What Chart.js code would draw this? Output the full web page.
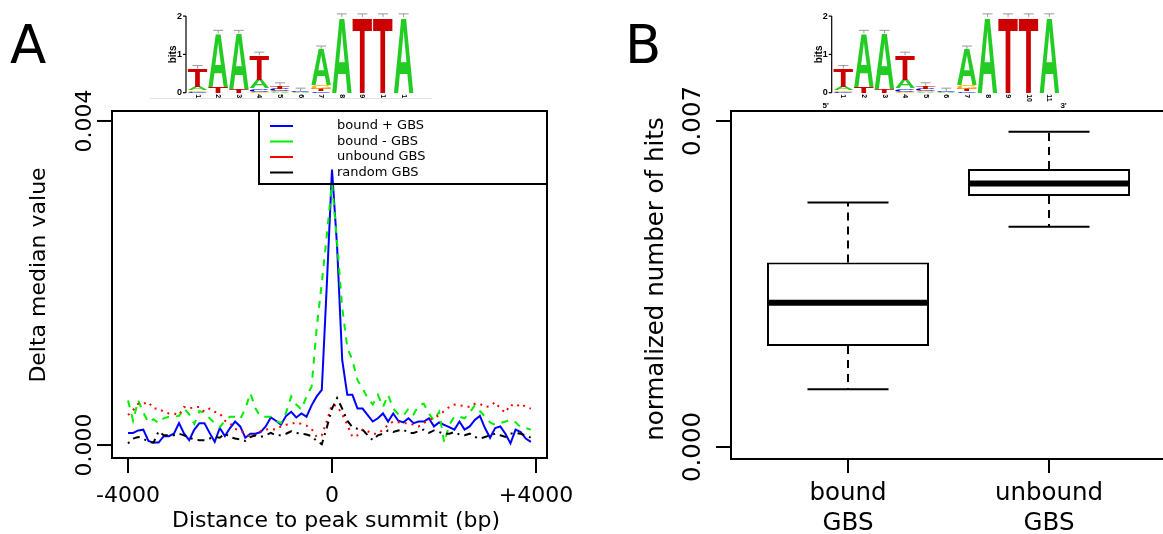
<!DOCTYPE html>
<html>
<head>
<meta charset="utf-8">
<script src="https://cdn.jsdelivr.net/npm/chart.js@4.4.1/dist/chart.umd.min.js"></script>
<style>
  html, body { margin: 0; padding: 0; background: #fff; }
  #wrap { position: relative; width: 1163px; height: 534px; overflow: hidden; }
  canvas { position: absolute; top: 0; }
  #left { left: 0; }
  #right { left: 600px; }
</style>
</head>
<body>
<div id="wrap">
  <canvas id="left" width="600" height="534"></canvas>
  <canvas id="right" width="563" height="534"></canvas>
</div>
<script>
// ---- panel A data (values read in units of 0.001) ----
const distances = [
  -4000,-3900,-3800,-3700,-3600,-3500,-3400,-3300,-3200,-3100,
  -3000,-2900,-2800,-2700,-2600,-2500,-2400,-2300,-2200,-2100,
  -2000,-1900,-1800,-1700,-1600,-1500,-1400,-1300,-1200,-1100,
  -1000,-900,-800,-700,-600,-500,-400,-300,-200,-100,
  0,100,200,300,400,500,600,700,800,900,
  1000,1100,1200,1300,1400,1500,1600,1700,1800,1900,
  2000,2100,2200,2300,2400,2500,2600,2700,2800,2900,
  3000,3100,3200,3300,3400,3500,3600,3700,3800,3900
];
const boundPlus = [
  0.15,0.15,0.18,0.19,0.05,0.03,0.03,0.11,0.11,0.14,
  0.27,0.14,0.06,0.19,0.27,0.27,0.15,0.04,0.21,0.11,
  0.21,0.29,0.23,0.09,0.14,0.14,0.16,0.23,0.34,0.30,
  0.25,0.36,0.41,0.34,0.39,0.35,0.49,0.60,0.68,2.00,
  3.40,2.45,1.05,0.62,0.62,0.45,0.45,0.37,0.29,0.33,
  0.39,0.29,0.39,0.30,0.28,0.33,0.27,0.29,0.29,0.33,
  0.23,0.28,0.25,0.22,0.19,0.29,0.19,0.23,0.31,0.36,
  0.21,0.09,0.21,0.23,0.14,0.02,0.19,0.16,0.08,0.04
];
const boundMinus = [
  0.55,0.30,0.55,0.40,0.28,0.32,0.27,0.33,0.35,0.35,
  0.36,0.45,0.38,0.26,0.42,0.40,0.33,0.27,0.22,0.30,
  0.35,0.35,0.32,0.45,0.64,0.45,0.35,0.35,0.35,0.30,
  0.27,0.40,0.60,0.50,0.44,0.60,0.72,1.45,2.00,2.60,
  3.23,2.50,1.70,1.20,1.05,0.80,0.70,0.58,0.50,0.62,
  0.47,0.62,0.45,0.38,0.36,0.45,0.38,0.49,0.51,0.39,
  0.30,0.41,0.03,0.25,0.35,0.35,0.33,0.40,0.49,0.42,
  0.35,0.28,0.25,0.27,0.29,0.31,0.28,0.22,0.21,0.19
];
const unbound = [
  0.37,0.43,0.51,0.51,0.53,0.45,0.45,0.41,0.39,0.39,
  0.37,0.47,0.45,0.47,0.47,0.41,0.45,0.41,0.39,0.30,
  0.27,0.20,0.18,0.14,0.10,0.12,0.17,0.19,0.20,0.19,
  0.23,0.25,0.26,0.28,0.26,0.24,0.20,0.10,0.12,0.30,
  0.50,0.48,0.38,0.25,0.10,0.12,0.19,0.17,0.14,0.14,
  0.19,0.25,0.29,0.28,0.27,0.27,0.25,0.23,0.27,0.31,
  0.33,0.37,0.42,0.47,0.50,0.49,0.48,0.47,0.51,0.51,
  0.47,0.48,0.53,0.45,0.40,0.50,0.47,0.51,0.47,0.45
];
const randomGBS = [
  0.02,0.08,0.10,0.08,0.04,0.03,0.17,0.12,0.12,0.12,
  0.14,0.12,0.09,0.07,0.06,0.06,0.08,0.10,0.09,0.14,
  0.10,0.08,0.07,0.05,0.10,0.12,0.10,0.12,0.15,0.12,
  0.12,0.14,0.17,0.15,0.14,0.13,0.11,0.05,0.01,0.22,
  0.45,0.58,0.45,0.30,0.22,0.20,0.19,0.12,0.06,0.12,
  0.14,0.18,0.16,0.18,0.19,0.15,0.15,0.17,0.19,0.15,
  0.18,0.16,0.14,0.14,0.16,0.13,0.12,0.14,0.10,0.08,
  0.10,0.12,0.14,0.12,0.10,0.14,0.15,0.14,0.12,0.09
];
const seriesNames = ['bound + GBS', 'bound - GBS', 'unbound GBS', 'random GBS'];
const xTicksA = [-4000, 0, 4000];
const xTickLabelsA = ['-4000', '0', '+4000'];
const yTicksA = [0, 0.004];
const yTickLabelsA = ['0.000', '0.004'];

// ---- panel B data (units of 0.001) ----
const boxGroups = [['bound', 'GBS'], ['unbound', 'GBS']];
const whiskerLow = [1.24, 4.73];
const quart1 = [2.17, 5.39];
const medians = [3.10, 5.66];
const quart3 = [3.96, 5.97];
const whiskerHigh = [5.25, 6.77];
const yTicksB = [0, 0.007];
const yTickLabelsB = ['0.000', '0.007'];

// ---- sequence logo (bits per letter, positions 1..11) ----
const logoPositions = ['1','2','3','4','5','6','7','8','9','10','11'];
const bitsA = [0.10, 1.40, 1.45, 0.22, 0.02, 0.02, 0.95, 1.98, 0.00, 0.00, 1.98];
const bitsC = [0.03, 0.01, 0.01, 0.08, 0.06, 0.02, 0.04, 0.00, 0.00, 0.00, 0.00];
const bitsG = [0.03, 0.01, 0.01, 0.03, 0.02, 0.01, 0.09, 0.00, 0.00, 0.00, 0.00];
const bitsT = [0.47, 0.15, 0.10, 0.65, 0.08, 0.01, 0.06, 0.00, 1.98, 1.98, 0.00];

const FONT = '"DejaVu Sans", Verdana, sans-serif';
const LOGO_FONT = '"Liberation Sans", Arial, sans-serif';
const letterColors = { A: '#22cc22', C: '#0000cc', G: '#ffb300', T: '#cc0000' };

function line(ctx, x1, y1, x2, y2) {
  ctx.beginPath(); ctx.moveTo(x1, y1); ctx.lineTo(x2, y2); ctx.stroke();
}

function rotText(ctx, text, x, y, font) {
  ctx.save();
  ctx.translate(x, y);
  ctx.rotate(-Math.PI / 2);
  ctx.font = font;
  ctx.textAlign = 'center';
  ctx.textBaseline = 'alphabetic';
  ctx.fillText(text, 0, 0);
  ctx.restore();
}

function drawLetter(ctx, ch, x, y, w, h, color) {
  ctx.save();
  ctx.font = 'bold 100px ' + LOGO_FONT;
  ctx.textBaseline = 'alphabetic';
  ctx.textAlign = 'left';
  const m = ctx.measureText(ch);
  const gl = -m.actualBoundingBoxLeft, gr = m.actualBoundingBoxRight;
  const gt = -m.actualBoundingBoxAscent, gb = m.actualBoundingBoxDescent;
  ctx.translate(x, y);
  ctx.scale(w / (gr - gl), h / (gb - gt));
  ctx.fillStyle = color;
  ctx.fillText(ch, -gl, -gt);
  ctx.restore();
}

function drawLogo(ctx, axisX, clipY, primes) {
  const base = 92.7, bit = 38.3, colW = 20.6, first = axisX + 1.3;
  ctx.save();
  if (clipY) { ctx.beginPath(); ctx.rect(axisX - 40, 0, 320, clipY); ctx.clip(); }
  ctx.strokeStyle = '#000'; ctx.fillStyle = '#000'; ctx.lineWidth = 1.2;
  line(ctx, axisX, base - 2 * bit, axisX, base);
  ctx.font = 'bold 9px ' + LOGO_FONT;
  ctx.textAlign = 'right'; ctx.textBaseline = 'middle';
  [0, 1, 2].forEach(b => {
    const yy = base - b * bit;
    line(ctx, axisX - 3, yy, axisX, yy);
    ctx.fillText(String(b), axisX - 4, yy);
  });
  rotText(ctx, 'bits', axisX - 10, base - bit, 'bold 10px ' + LOGO_FONT);

  logoPositions.forEach((lab, i) => {
    const x0 = first + i * colW;
    const stack = [
      { l: 'A', h: bitsA[i] }, { l: 'C', h: bitsC[i] },
      { l: 'G', h: bitsG[i] }, { l: 'T', h: bitsT[i] }
    ].sort((p, q) => p.h - q.h);
    let yy = base;
    stack.forEach(s => {
      const hp = s.h * bit;
      if (hp < 0.4) return;
      drawLetter(ctx, s.l, x0 + 0.5, yy - hp, colW - 1, hp, letterColors[s.l]);
      yy -= hp;
    });
    // small error bar on top of the stack
    ctx.strokeStyle = '#999'; ctx.lineWidth = 1;
    const cx = x0 + colW / 2;
    line(ctx, cx - 5, yy - 3, cx + 5, yy - 3);
    line(ctx, cx, yy - 3, cx, yy);
    // position number, rotated
    ctx.save();
    ctx.fillStyle = '#000';
    ctx.translate(cx, base + 1.5);
    ctx.rotate(Math.PI / 2);
    ctx.font = 'bold 7px ' + LOGO_FONT;
    ctx.textAlign = 'left'; ctx.textBaseline = 'middle';
    ctx.fillText(lab, 0, 0);
    ctx.restore();
  });
  if (primes) {
    ctx.fillStyle = '#000';
    ctx.font = 'bold 8px ' + LOGO_FONT;
    ctx.textAlign = 'center'; ctx.textBaseline = 'alphabetic';
    ctx.fillText("5'", axisX - 6, 108);
    ctx.fillText("3'", first + 11 * colW + 4, 108);
  }
  ctx.restore();
}

const lineStyles = [
  { color: '#0000ff', dash: [] },
  { color: '#00ee00', dash: [7, 7] },
  { color: '#ff0000', dash: [2, 5] },
  { color: '#000000', dash: [2, 5, 7, 5] }
];

const panelA = {
  id: 'panelA',
  afterDraw(chart) {
    const { ctx, chartArea: a, scales: { x, y } } = chart;
    ctx.save();
    ctx.strokeStyle = '#000'; ctx.fillStyle = '#000'; ctx.lineWidth = 2;
    ctx.strokeRect(a.left, a.top, a.right - a.left, a.bottom - a.top);

    yTicksA.forEach((v, i) => {
      const py = y.getPixelForValue(v);
      line(ctx, a.left - 15, py, a.left, py);
      rotText(ctx, yTickLabelsA[i], a.left - 21, py, '22px ' + FONT);
    });
    ctx.font = '22px ' + FONT;
    ctx.textAlign = 'center'; ctx.textBaseline = 'alphabetic';
    xTicksA.forEach((v, i) => {
      const px = x.getPixelForValue(v);
      line(ctx, px, a.bottom, px, a.bottom + 15);
      ctx.fillText(xTickLabelsA[i], px, a.bottom + 44);
    });
    ctx.fillText('Distance to peak summit (bp)', 336, 527);
    rotText(ctx, 'Delta median value', 45, 275, '22px ' + FONT);

    // legend
    ctx.lineWidth = 2; ctx.setLineDash([]);
    ctx.strokeRect(259, 111, 288, 73);
    ctx.font = '13px ' + FONT;
    ctx.textAlign = 'left'; ctx.textBaseline = 'middle';
    seriesNames.forEach((name, i) => {
      const ly = 126 + i * 15.5;
      ctx.strokeStyle = lineStyles[i].color;
      line(ctx, 270, ly, 293, ly);
      ctx.fillStyle = '#000';
      ctx.fillText(name, 337, ly);
    });

    ctx.font = '53px ' + FONT;
    ctx.textBaseline = 'alphabetic';
    ctx.fillText('A', 10, 63);

    ctx.strokeStyle = '#e2e2e2'; ctx.lineWidth = 1;
    line(ctx, 150, 98.5, 432, 98.5);
    drawLogo(ctx, 186, 98, false);
    ctx.restore();
  }
};

new Chart(document.getElementById('left'), {
  type: 'line',
  data: {
    datasets: [boundPlus, boundMinus, unbound, randomGBS].map((vals, k) => ({
      label: seriesNames[k],
      data: distances.map((d, i) => ({ x: d, y: vals[i] / 1000 })),
      borderColor: lineStyles[k].color,
      borderDash: lineStyles[k].dash,
      borderWidth: 2,
      pointRadius: 0,
      tension: 0,
      fill: false,
      order: 4 - k
    }))
  },
  options: {
    responsive: false,
    animation: false,
    devicePixelRatio: 1,
    layout: { padding: { left: 112, top: 111, right: 53, bottom: 76 } },
    plugins: { legend: { display: false }, tooltip: { enabled: false } },
    scales: {
      x: { type: 'linear', display: false, min: -4314, max: 4216 },
      y: { type: 'linear', display: false, min: -0.00016, max: 0.004123 }
    }
  },
  plugins: [panelA]
});

const panelB = {
  id: 'panelB',
  afterDatasetsDraw(chart) {
    const { ctx, scales: { y } } = chart;
    const meta = chart.getDatasetMeta(0);
    ctx.save();
    ctx.strokeStyle = '#000';
    meta.data.forEach((bar, i) => {
      const half = bar.width / 2;
      const cap = bar.width / 4;
      const top = y.getPixelForValue(quart3[i] / 1000);
      const bot = y.getPixelForValue(quart1[i] / 1000);
      const hi = y.getPixelForValue(whiskerHigh[i] / 1000);
      const lo = y.getPixelForValue(whiskerLow[i] / 1000);
      const med = y.getPixelForValue(medians[i] / 1000);
      ctx.lineWidth = 2;
      ctx.setLineDash([8, 6]);
      line(ctx, bar.x, top, bar.x, hi);
      line(ctx, bar.x, bot, bar.x, lo);
      ctx.setLineDash([]);
      line(ctx, bar.x - cap, hi, bar.x + cap, hi);
      line(ctx, bar.x - cap, lo, bar.x + cap, lo);
      ctx.lineWidth = 6;
      line(ctx, bar.x - half + 1, med, bar.x + half - 1, med);
    });
    ctx.restore();
  },
  afterDraw(chart) {
    const { ctx, chartArea: a, scales: { x, y } } = chart;
    const fontB = '24.5px ' + FONT;
    ctx.save();
    ctx.strokeStyle = '#000'; ctx.fillStyle = '#000'; ctx.lineWidth = 2;
    ctx.strokeRect(a.left, a.top, a.right - a.left + 6, a.bottom - a.top);
    yTicksB.forEach((v, i) => {
      const py = y.getPixelForValue(v);
      line(ctx, a.left - 15, py, a.left, py);
      rotText(ctx, yTickLabelsB[i], a.left - 31, py, fontB);
    });
    ctx.font = fontB;
    ctx.textAlign = 'center'; ctx.textBaseline = 'alphabetic';
    boxGroups.forEach((lab, i) => {
      const px = x.getPixelForValue(i + 1);
      line(ctx, px, a.bottom, px, a.bottom + 14);
      ctx.fillText(lab[0], px, a.bottom + 41);
      ctx.fillText(lab[1], px, a.bottom + 71);
    });
    rotText(ctx, 'normalized number of hits', 63, 279, fontB);

    ctx.font = '53px ' + FONT;
    ctx.textAlign = 'left';
    ctx.fillText('B', 25, 63);

    drawLogo(ctx, 231.7, 0, true);
    ctx.restore();
  }
};

new Chart(document.getElementById('right'), {
  type: 'bar',
  data: {
    datasets: [{
      data: boxGroups.map((g, i) => ({ x: i + 1, y: [quart1[i] / 1000, quart3[i] / 1000] })),
      backgroundColor: '#ffffff',
      borderColor: '#000000',
      borderWidth: 2,
      borderSkipped: false,
      categoryPercentage: 1,
      barPercentage: 0.806
    }]
  },
  options: {
    responsive: false,
    animation: false,
    devicePixelRatio: 1,
    layout: { padding: { left: 131, top: 111, right: 0, bottom: 75 } },
    plugins: { legend: { display: false }, tooltip: { enabled: false } },
    scales: {
      x: {
        type: 'linear', display: false, offset: false, min: 0.418, max: 2.567,
        afterBuildTicks: s => { s.ticks = boxGroups.map((g, i) => ({ value: i + 1 })); }
      },
      y: { type: 'linear', display: false, min: -0.000258, max: 0.007215 }
    }
  },
  plugins: [panelB]
});
</script>
</body>
</html>
